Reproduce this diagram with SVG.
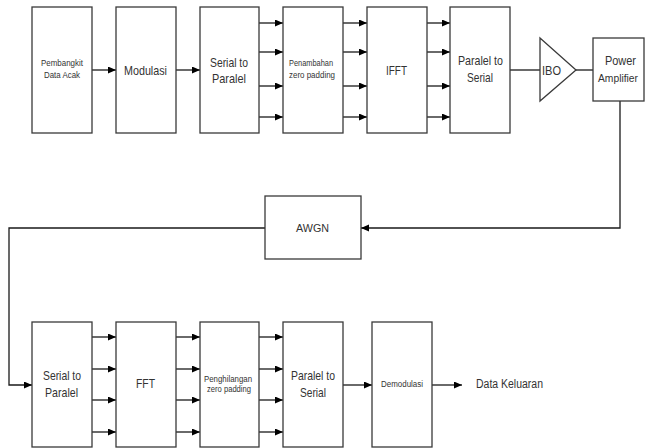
<svg xmlns="http://www.w3.org/2000/svg" width="645" height="448" viewBox="0 0 645 448">
<style>
.b{fill:#fff;stroke:#3a3a3a;stroke-width:1.3}
.c{fill:none;stroke:#1a1a1a;stroke-width:1.3}
.ca{fill:none;stroke:#1a1a1a;stroke-width:1.3;marker-end:url(#ah)}
text{font-family:"Liberation Sans",Arial,sans-serif;fill:#333}
.s{font-size:8.5px}
.m{font-size:13px}
</style>
<defs>
<marker id="ah" markerUnits="userSpaceOnUse" markerWidth="9" markerHeight="8" refX="8" refY="3.5" orient="auto">
<path d="M0,0 L8,3.5 L0,7 z" fill="#000"/>
</marker>
</defs>
<rect width="645" height="448" fill="#fff"/>
<g id="connectors">
<line class="ca" x1="92" y1="70" x2="116" y2="70"/>
<line class="ca" x1="176" y1="70" x2="200" y2="70"/>
<line class="ca" x1="259" y1="23" x2="283" y2="23"/>
<line class="ca" x1="259" y1="52" x2="283" y2="52"/>
<line class="ca" x1="259" y1="86" x2="283" y2="86"/>
<line class="ca" x1="259" y1="117" x2="283" y2="117"/>
<line class="ca" x1="343" y1="23" x2="367" y2="23"/>
<line class="ca" x1="343" y1="52" x2="367" y2="52"/>
<line class="ca" x1="343" y1="86" x2="367" y2="86"/>
<line class="ca" x1="343" y1="117" x2="367" y2="117"/>
<line class="ca" x1="427" y1="23" x2="450" y2="23"/>
<line class="ca" x1="427" y1="52" x2="450" y2="52"/>
<line class="ca" x1="427" y1="86" x2="450" y2="86"/>
<line class="ca" x1="427" y1="117" x2="450" y2="117"/>
<line class="c" x1="510" y1="70" x2="540" y2="70"/>
<line class="c" x1="576" y1="70" x2="593" y2="70"/>
<polyline class="ca" points="620,101 620,228 361,228"/>
<polyline class="ca" points="265,228 9,228 9,385 32,385"/>
<line class="ca" x1="92" y1="337" x2="116" y2="337"/>
<line class="ca" x1="92" y1="369" x2="116" y2="369"/>
<line class="ca" x1="92" y1="400" x2="116" y2="400"/>
<line class="ca" x1="92" y1="432" x2="116" y2="432"/>
<line class="ca" x1="176" y1="337" x2="200" y2="337"/>
<line class="ca" x1="176" y1="369" x2="200" y2="369"/>
<line class="ca" x1="176" y1="400" x2="200" y2="400"/>
<line class="ca" x1="176" y1="432" x2="200" y2="432"/>
<line class="ca" x1="259" y1="337" x2="283" y2="337"/>
<line class="ca" x1="259" y1="369" x2="283" y2="369"/>
<line class="ca" x1="259" y1="400" x2="283" y2="400"/>
<line class="ca" x1="259" y1="432" x2="283" y2="432"/>
<line class="ca" x1="343" y1="385" x2="372" y2="385"/>
<line class="ca" x1="432" y1="385" x2="462" y2="385"/>
</g>
<g id="pembangkit"><rect class="b" x="32" y="7" width="60" height="126"/>
<text class="s" x="41" y="66" textLength="42" lengthAdjust="spacingAndGlyphs">Pembangkit</text>
<text class="s" x="44" y="78" textLength="36" lengthAdjust="spacingAndGlyphs">Data Acak</text></g>
<g id="modulasi"><rect class="b" x="116" y="7" width="60" height="126"/>
<text class="m" x="124" y="75" textLength="43" lengthAdjust="spacingAndGlyphs">Modulasi</text></g>
<g id="sp1"><rect class="b" x="200" y="7" width="59" height="126"/>
<text class="m" x="210" y="67" textLength="38" lengthAdjust="spacingAndGlyphs">Serial to</text>
<text class="m" x="212" y="83" textLength="34" lengthAdjust="spacingAndGlyphs">Paralel</text></g>
<g id="penambahan"><rect class="b" x="283" y="7" width="60" height="126"/>
<text class="s" x="289" y="66" textLength="44" lengthAdjust="spacingAndGlyphs">Penambahan</text>
<text class="s" x="289" y="78" textLength="46" lengthAdjust="spacingAndGlyphs">zero padding</text></g>
<g id="ifft"><rect class="b" x="367" y="7" width="60" height="126"/>
<text class="m" x="386" y="75" textLength="21" lengthAdjust="spacingAndGlyphs">IFFT</text></g>
<g id="ps1"><rect class="b" x="450" y="7" width="60" height="126"/>
<text class="m" x="458" y="65" textLength="45" lengthAdjust="spacingAndGlyphs">Paralel to</text>
<text class="m" x="467" y="82" textLength="26" lengthAdjust="spacingAndGlyphs">Serial</text></g>
<g id="ibo"><polygon class="b" points="540,38 576,70 540,101"/>
<text class="m" x="542" y="75" textLength="19" lengthAdjust="spacingAndGlyphs">IBO</text></g>
<g id="pa"><rect class="b" x="593" y="38" width="51" height="63"/>
<text class="m" x="605" y="65" textLength="31" lengthAdjust="spacingAndGlyphs">Power</text>
<text x="598" y="82" font-size="11.5" textLength="40" lengthAdjust="spacingAndGlyphs">Amplifier</text></g>
<g id="awgn"><rect class="b" x="265" y="196" width="96" height="63"/>
<text x="296" y="232" font-size="11" textLength="33" lengthAdjust="spacingAndGlyphs">AWGN</text></g>
<g id="sp2"><rect class="b" x="32" y="322" width="60" height="125"/>
<text class="m" x="43" y="380" textLength="38" lengthAdjust="spacingAndGlyphs">Serial to</text>
<text class="m" x="45" y="397" textLength="33" lengthAdjust="spacingAndGlyphs">Paralel</text></g>
<g id="fft"><rect class="b" x="116" y="322" width="60" height="125"/>
<text class="m" x="136" y="388" textLength="19" lengthAdjust="spacingAndGlyphs">FFT</text></g>
<g id="penghilangan"><rect class="b" x="200" y="322" width="59" height="125"/>
<text class="s" x="204" y="382" textLength="48" lengthAdjust="spacingAndGlyphs">Penghilangan</text>
<text class="s" x="207" y="392" textLength="44" lengthAdjust="spacingAndGlyphs">zero padding</text></g>
<g id="ps2"><rect class="b" x="283" y="322" width="60" height="125"/>
<text class="m" x="291" y="380" textLength="44" lengthAdjust="spacingAndGlyphs">Paralel to</text>
<text class="m" x="300" y="397" textLength="26" lengthAdjust="spacingAndGlyphs">Serial</text></g>
<g id="demodulasi"><rect class="b" x="372" y="322" width="60" height="125"/>
<text class="s" x="381" y="387" textLength="42" lengthAdjust="spacingAndGlyphs">Demodulasi</text></g>
<g id="output"><text x="476" y="388" font-size="12.5" textLength="67" lengthAdjust="spacingAndGlyphs">Data Keluaran</text></g>
</svg>
